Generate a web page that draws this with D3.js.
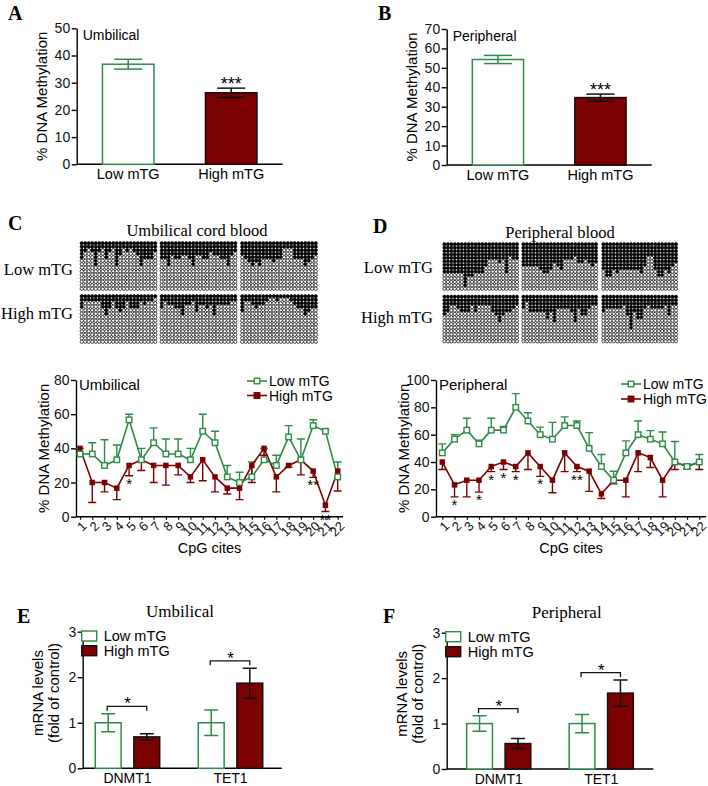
<!DOCTYPE html>
<html><head><meta charset="utf-8">
<script src="https://d3js.org/d3.v7.min.js"></script>
<style>body{margin:0;background:#fff} svg{display:block}</style>
</head><body><svg id="c" width="708" height="786"></svg>
<script>
// ---------------- DATA ----------------
const groups = ["Low mTG", "High mTG"];
// A / B : overall methylation (mean, SEM)
const umbMeth = [36.8, 26.3], umbMethSem = [1.8, 1.7];
const perMeth = [54.3, 34.7], perMethSem = [2.1, 1.8];
// C / D : per-CpG methylation
const cpgSites = ["1","2","3","4","5","6","7","8","9","10","11","12","13","14","15","16","17","18","19","20","21","22"];
const umbLow     = [36.7,36.7,30,33.3,56.7,33.3,43.3,36.7,36.7,33.3,50,43.3,23.3,20,23.3,33.3,30,46.7,33.3,53.3,50,23.3];
const umbLowSem  = [3.3,6.6,15,8.7,3.3,6.7,8.7,8.8,8.8,6.7,10,6.7,6.7,6,8.7,6.7,6,6.6,12.2,3.4,1,8.7];
const umbHigh    = [40,20,20,16.7,30,33.3,30,30,30,23.3,33.3,23.3,16.7,16.7,30,40,23.3,30,33.3,26.7,6.7,26.7];
const umbHighSem = [3,11.7,5.5,6.7,6,6.3,10,11.5,5.5,3.3,12.3,8.8,3.4,6.7,10,4,8.8,1,8.8,3.7,3.7,11.7];
const umbStars   = ["","","","","*","","","","","","","","","","","","","","","**","**",""];
const perLow     = [46.7,56.7,63.3,53.3,63.3,63.3,80,70,60,56.7,66.7,66.7,50,36.7,26.7,46.7,60,56.7,53.3,40,36.7,40];
const perLowSem  = [6.6,3.3,8.7,2.7,8.7,2.7,10,6,5.5,12.3,6.3,3.3,11.5,8.8,6.6,8.8,10,6.3,8.7,15,1.8,5.5];
const perHigh    = [40,23.3,26.7,26.7,36.7,40,36.7,46.7,36.7,26.7,46.7,36.7,33.3,16.7,26.7,26.7,46.7,43.3,26.7,40,36.7,40];
const perHighSem = [5.5,8.8,12.2,8.7,3.7,5.5,3.7,12.2,7.2,9.2,13.7,3.7,14.8,3.4,2.7,12.2,13.7,7.3,12.2,5.5,1.7,5.5];
const perStars   = ["","*","","*","*","*","*","","*","","","**","","","","","","","","","",""];
// bisulfite clones: number of methylated clones (of 14) per CpG column, 3 blocks each
const umbLowClones = [
  [5,3,2,3,7,3,2,5,3,2,7,4,2,3,2,3,4,7,5,5,5,3],
  [5,5,7,4,5,5,4,4,5,7,4,4,5,5,3,4,4,5,5,7,4,3],
  [4,5,6,7,6,7,5,5,5,6,5,5,2,2,2,5,5,5,7,6,5,4]];
const umbHighClones = [
  [4,2,2,2,2,2,4,6,4,2,4,5,4,2,4,4,4,2,3,2,2,1],
  [4,2,3,3,4,4,6,3,3,2,5,3,3,4,3,6,3,3,3,3,2,2],
  [5,2,2,3,4,3,3,2,1,1,2,1,1,1,2,3,4,4,6,5,4,4]];
const perLowClones = [
  [9,9,9,9,9,9,13,10,10,9,9,9,7,5,5,5,6,5,9,4,5,5],
  [7,7,7,7,7,8,9,9,8,6,7,8,5,5,5,4,6,6,5,6,7,6],
  [8,10,10,8,9,8,8,8,8,8,8,9,7,4,4,8,10,10,8,9,7,6]];
const perHighClones = [
  [6,5,3,3,4,5,5,5,3,5,3,3,3,3,5,6,8,6,5,5,4,3],
  [4,2,5,5,5,5,5,7,5,8,4,4,4,4,5,8,4,6,6,4,3,3],
  [5,4,4,4,4,4,3,6,10,5,7,7,4,3,4,4,4,4,3,6,3,3]];
// E / F : mRNA levels
const genes = ["DNMT1", "TET1"];
const umbMrnaLow = [1.0, 1.0],  umbMrnaLowSem = [0.2, 0.28];
const umbMrnaHigh = [0.69, 1.87], umbMrnaHighSem = [0.07, 0.33];
const perMrnaLow = [1.0, 1.0],  perMrnaLowSem = [0.17, 0.2];
const perMrnaHigh = [0.56, 1.67], perMrnaHighSem = [0.11, 0.29];

// ---------------- STYLE ----------------
const GREEN = "#2e8a48", RED = "#7b0000";
const SANS = "'Liberation Sans', Arial, sans-serif";
const SERIF = "'Liberation Serif', 'Times New Roman', serif";
const svg = d3.select("#c");

function letter(t, x, y) {
  svg.append("text").attr("x", x).attr("y", y).text(t)
    .attr("font-family", SERIF).attr("font-weight", "bold").attr("font-size", 20);
}
function yAxis(g, y, x, ticks, fs) {
  const ax = g.append("g").attr("transform", `translate(${x},0)`)
    .call(d3.axisLeft(y).tickValues(ticks).tickFormat(d3.format("d")).tickSize(5).tickPadding(1.5).tickSizeOuter(0));
  ax.select(".domain").attr("stroke-width", 1.4);
  ax.selectAll(".tick line").attr("stroke-width", 1.4);
  ax.selectAll("text").attr("font-family", SANS).attr("font-size", fs).attr("fill", "#111");
  return ax;
}
function yLabel(lines, cx, cy, fs, gap) {
  lines.forEach((t, i) => {
    const x = cx + (i - (lines.length - 1) / 2) * gap;
    svg.append("text").attr("transform", `translate(${x},${cy}) rotate(-90)`)
      .attr("text-anchor", "middle").attr("dominant-baseline", "central")
      .attr("font-family", SANS).attr("font-size", fs).text(t);
  });
}

// ---------------- A / B ----------------
function barPanel(o) {
  const g = svg.append("g");
  const y = d3.scaleLinear().domain([0, o.max]).range([o.y0, o.y1]);
  const x = d3.scaleBand().domain(groups).range([o.xa, o.xb]).paddingInner(0.5).paddingOuter(0.25);
  yAxis(g, y, o.xa, d3.range(0, o.max + 1, 10), 14);
  g.append("line").attr("x1", o.xa).attr("x2", o.xb).attr("y1", o.y0).attr("y2", o.y0)
    .attr("stroke", "#000").attr("stroke-width", 1.4);
  groups.forEach((gr, i) => {
    const bx = x(gr), bw = x.bandwidth();
    const low = i === 0;
    g.append("rect").attr("x", bx).attr("y", y(o.vals[i])).attr("width", bw)
      .attr("height", o.y0 - y(o.vals[i]))
      .attr("fill", low ? "#fff" : RED).attr("stroke", low ? GREEN : "#111").attr("stroke-width", 1.5);
    const cx = bx + bw / 2, c = low ? GREEN : "#111";
    const t = y(o.vals[i] + o.sem[i]), b = y(o.vals[i] - o.sem[i]);
    g.append("line").attr("x1", cx).attr("x2", cx).attr("y1", t).attr("y2", b).attr("stroke", c).attr("stroke-width", 1.5);
    [t, b].forEach(yy => g.append("line").attr("x1", cx - 14).attr("x2", cx + 14).attr("y1", yy).attr("y2", yy).attr("stroke", c).attr("stroke-width", 1.5));
    if (!low) g.append("text").attr("x", cx).attr("y", t + 1.5).attr("text-anchor", "middle")
      .attr("font-family", SANS).attr("font-size", 18).text("***");
    g.append("text").attr("x", cx).attr("y", o.y0 + 15).attr("text-anchor", "middle")
      .attr("font-family", SANS).attr("font-size", 14.5).text(gr);
  });
  g.append("text").attr("x", o.xa + 6).attr("y", o.y1 + 12).attr("font-family", SANS).attr("font-size", 14).text(o.title);
  yLabel(["% DNA Methylation"], o.xa - 35, (o.y0 + o.y1) / 2, 15, 0);
}
letter("A", 8, 20);
barPanel({ xa: 76.7, xb: 282.7, y0: 164.3, y1: 28.3, max: 50, vals: umbMeth, sem: umbMethSem, title: "Umbilical" });
letter("B", 378, 20);
barPanel({ xa: 446.7, xb: 651.7, y0: 165, y1: 29, max: 70, vals: perMeth, sem: perMethSem, title: "Peripheral" });

// ---------------- C / D grids ----------------
function grid(x0, y0, w, h, counts) {
  const cols = counts.length, rows = 14, dx = w / cols, dy = h / rows, r = Math.min(dx, dy) / 2 - 0.1;
  const g = svg.append("g");
  counts.forEach((n, j) => {
    for (let i = 0; i < rows; i++) {
      g.append("circle").attr("cx", x0 + dx * (j + 0.5)).attr("cy", y0 + dy * (i + 0.5)).attr("r", r)
        .attr("fill", i < n ? "#000" : "#fff").attr("stroke", "#111").attr("stroke-width", 0.75);
    }
  });
}
function gridPanel(o) {
  svg.append("text").attr("x", o.cx).attr("y", o.titleY).attr("text-anchor", "middle")
    .attr("font-family", SERIF).attr("font-size", 16.5).text(o.title);
  [o.low, o.high].forEach((blocks, k) => {
    blocks.forEach((c, b) => grid(o.xs[b], o.ys[k], o.w, o.h, c));
    svg.append("text").attr("x", o.labX).attr("y", o.labY[k]).attr("text-anchor", "end")
      .attr("font-family", SERIF).attr("font-size", 16.5).text(groups[k]);
  });
}
letter("C", 8, 230);
gridPanel({ title: "Umbilical cord blood", cx: 197, titleY: 236, xs: [80, 160, 240.5], ys: [241.5, 294.5], w: 77, h: 49,
  low: umbLowClones, high: umbHighClones, labX: 73, labY: [275, 319] });
letter("D", 373, 233);
gridPanel({ title: "Peripheral blood", cx: 560, titleY: 237.5, xs: [442.7, 521.7, 601.7], ys: [242.5, 295], w: 76, h: 48,
  low: perLowClones, high: perHighClones, labX: 433, labY: [273, 323] });

// ---------------- C / D line charts ----------------
function linePanel(o) {
  const g = svg.append("g");
  const x = d3.scalePoint().domain(cpgSites).range([o.p1, o.p2]);
  const y = d3.scaleLinear().domain([0, o.max]).range([o.y0, o.y1]);
  yAxis(g, y, o.xa, d3.range(0, o.max + 1, 20), 14);
  const xa = g.append("g").attr("transform", `translate(0,${o.y0})`)
    .call(d3.axisBottom(x).tickSize(3).tickSizeOuter(0));
  xa.select(".domain").attr("d", `M${o.xa},0H${o.xb}`).attr("stroke-width", 1.4);
  xa.selectAll(".tick line").attr("stroke-width", 1.2);
  xa.selectAll("text").attr("font-family", SANS).attr("font-size", 13).attr("fill", "#111")
    .attr("text-anchor", "end").attr("dy", "0.35em")
    .attr("transform", "translate(4,7) rotate(-45)").attr("x", 0).attr("y", 0);
  g.append("text").attr("x", (o.xa + o.xb) / 2).attr("y", o.y0 + 36).attr("text-anchor", "middle")
    .attr("font-family", SANS).attr("font-size", 14.5).text("CpG cites");
  // error bars
  const cap = 4;
  cpgSites.forEach((s, i) => {
    const cx = x(s);
    const gt = y(o.low[i] + o.lowSem[i]);
    g.append("path").attr("d", `M${cx},${y(o.low[i])}V${gt}M${cx - cap},${gt}H${cx + cap}`)
      .attr("stroke", GREEN).attr("stroke-width", 1.4).attr("fill", "none");
    const rb = y(o.high[i] - o.highSem[i]);
    g.append("path").attr("d", `M${cx},${y(o.high[i])}V${rb}M${cx - cap},${rb}H${cx + cap}`)
      .attr("stroke", RED).attr("stroke-width", 1.4).attr("fill", "none");
    if (o.stars[i]) g.append("text").attr("x", cx).attr("y", rb + 13).attr("text-anchor", "middle")
      .attr("font-family", SANS).attr("font-size", 15).text(o.stars[i]);
  });
  const line = d3.line().x((d, i) => x(cpgSites[i])).y(d => y(d));
  g.append("path").attr("d", line(o.high)).attr("fill", "none").attr("stroke", RED).attr("stroke-width", 1.6);
  g.append("path").attr("d", line(o.low)).attr("fill", "none").attr("stroke", GREEN).attr("stroke-width", 1.6);
  const sq = 5.5;
  g.selectAll(null).data(o.high).join("rect").attr("x", (d, i) => x(cpgSites[i]) - sq / 2).attr("y", d => y(d) - sq / 2)
    .attr("width", sq).attr("height", sq).attr("fill", RED);
  g.selectAll(null).data(o.low).join("rect").attr("x", (d, i) => x(cpgSites[i]) - sq / 2).attr("y", d => y(d) - sq / 2)
    .attr("width", sq).attr("height", sq).attr("fill", "#fff").attr("stroke", GREEN).attr("stroke-width", 1.4);
  // legend
  [[GREEN, "#fff", groups[0]], [RED, RED, groups[1]]].forEach((L, k) => {
    const ly = o.legY[k];
    g.append("line").attr("x1", o.legX).attr("x2", o.legX + 20).attr("y1", ly).attr("y2", ly).attr("stroke", L[0]).attr("stroke-width", 1.6);
    g.append("rect").attr("x", o.legX + 10 - sq / 2).attr("y", ly - sq / 2).attr("width", sq).attr("height", sq)
      .attr("fill", L[1]).attr("stroke", L[0]).attr("stroke-width", 1.4);
    g.append("text").attr("x", o.legX + 22).attr("y", ly + 5).attr("font-family", SANS).attr("font-size", 14).text(L[2]);
  });
  g.append("text").attr("x", o.xa + 3).attr("y", o.y1 + 10).attr("font-family", SANS).attr("font-size", 15).text(o.title);
  yLabel(["% DNA Methylation"], o.xa - 33, (o.y0 + o.y1) / 2, 15, 0);
}
linePanel({ xa: 76, xb: 343, p1: 80, p2: 337.7, y0: 516.7, y1: 380, max: 80, low: umbLow, lowSem: umbLowSem,
  high: umbHigh, highSem: umbHighSem, stars: umbStars, legX: 247, legY: [381, 395.5], title: "Umbilical" });
linePanel({ xa: 436, xb: 706, p1: 442.3, p2: 699.3, y0: 516.7, y1: 380, max: 100, low: perLow, lowSem: perLowSem,
  high: perHigh, highSem: perHighSem, stars: perStars, legX: 621, legY: [384, 399], title: "Peripheral" });

// ---------------- E / F ----------------
function mrnaPanel(o) {
  const g = svg.append("g");
  const y = d3.scaleLinear().domain([0, 3]).range([o.y0, o.y1]);
  const x0 = d3.scaleBand().domain(genes).range([o.ga, o.gb]);
  const x1 = d3.scaleBand().domain(groups).range([0, x0.bandwidth()]).paddingInner(0.33).paddingOuter(0.5);
  yAxis(g, y, o.xa, [0, 1, 2, 3], 14);
  g.append("line").attr("x1", o.xa).attr("x2", o.xb).attr("y1", o.y0).attr("y2", o.y0).attr("stroke", "#000").attr("stroke-width", 1.4);
  const vals = [o.low, o.high], sems = [o.lowSem, o.highSem];
  genes.forEach((gn, gi) => {
    const tops = [];
    groups.forEach((gr, k) => {
      const bx = x0(gn) + x1(gr), bw = x1.bandwidth(), v = vals[k][gi], s = sems[k][gi];
      g.append("rect").attr("x", bx).attr("y", y(v)).attr("width", bw).attr("height", o.y0 - y(v))
        .attr("fill", k ? RED : "#fff").attr("stroke", k ? "#111" : GREEN).attr("stroke-width", 1.5);
      const cx = bx + bw / 2, c = k ? "#111" : GREEN, t = y(v + s), b = y(v - s);
      tops.push([cx, t]);
      g.append("path").attr("d", `M${cx},${t}V${b}M${cx - 7},${t}H${cx + 7}M${cx - 7},${b}H${cx + 7}`)
        .attr("stroke", c).attr("stroke-width", 1.5).attr("fill", "none");
    });
    const by = Math.min(tops[0][1], tops[1][1]) - 7.3;
    g.append("path").attr("d", `M${tops[0][0] - 1},${by + 4.5}V${by}H${tops[1][0]}V${by + 4.5}`)
      .attr("stroke", "#111").attr("stroke-width", 1.3).attr("fill", "none");
    g.append("text").attr("x", (tops[0][0] + tops[1][0]) / 2).attr("y", by + 3).attr("text-anchor", "middle")
      .attr("font-family", SANS).attr("font-size", 17).text("*");
    g.append("text").attr("x", x0(gn) + x0.bandwidth() / 2).attr("y", o.y0 + 15).attr("text-anchor", "middle")
      .attr("font-family", SANS).attr("font-size", 14).text(gn);
  });
  [[GREEN, "#fff"], ["#111", RED]].forEach((L, k) => {
    const ly = o.legY[k];
    g.append("rect").attr("x", o.xa - 1).attr("y", ly).attr("width", 15).attr("height", 10)
      .attr("fill", L[1]).attr("stroke", L[0]).attr("stroke-width", 1.4);
    g.append("text").attr("x", o.xa + 21).attr("y", ly + 10).attr("font-family", SANS).attr("font-size", 14.5).text(groups[k]);
  });
  svg.append("text").attr("x", o.tx).attr("y", o.y1 - 14.5).attr("text-anchor", "middle")
    .attr("font-family", SERIF).attr("font-size", 17).text(o.title);
  yLabel(["mRNA levels", "(fold of control)"], o.xa - 37, (o.y0 + o.y1) / 2 - 7, 15, 15.5);
}
letter("E", 17, 623);
mrnaPanel({ xa: 82.7, xb: 281.7, ga: 76, gb: 282, y0: 768.3, y1: 631.7, low: umbMrnaLow, lowSem: umbMrnaLowSem,
  high: umbMrnaHigh, highSem: umbMrnaHighSem, legY: [631, 645.7], tx: 180, title: "Umbilical" });
letter("F", 383, 623);
mrnaPanel({ xa: 446.7, xb: 653.3, ga: 447.5, gb: 652.5, y0: 769, y1: 632.7, low: perMrnaLow, lowSem: perMrnaLowSem,
  high: perMrnaHigh, highSem: perMrnaHighSem, legY: [631.7, 646.7], tx: 566.7, title: "Peripheral" });
</script>
</body></html>
